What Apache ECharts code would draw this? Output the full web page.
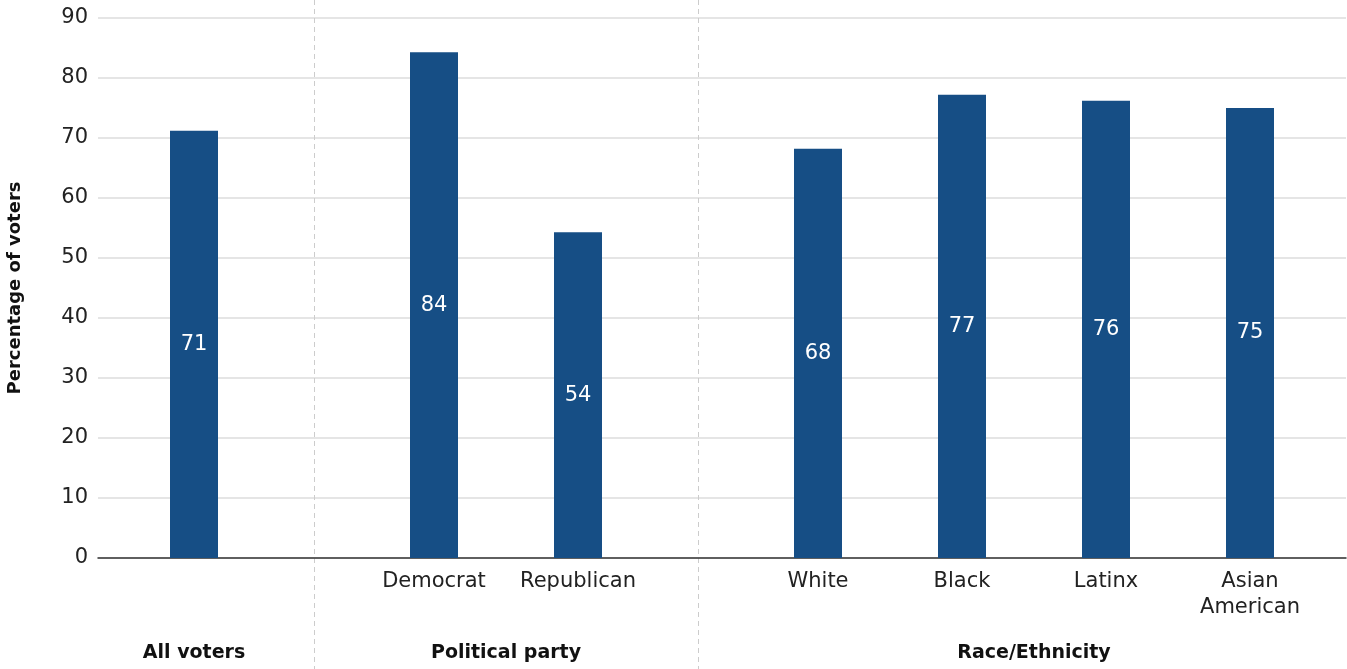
<!DOCTYPE html>
<html>
<head>
<meta charset="utf-8">
<script src="https://cdn.jsdelivr.net/npm/echarts@6/dist/echarts.min.js"></script>
<style>
html,body{margin:0;padding:0;background:#fff;}
#chart{width:1347px;height:669px;}
</style>
</head>
<body>
<div id="chart"></div>
<script>
// ---- data ----
var categories = ['', 'Democrat', 'Republican', 'White', 'Black', 'Latinx', 'Asian\nAmerican'];
var values = [71.2, 84.3, 54.3, 68.2, 77.2, 76.2, 75.0];
var groupNames = ['All voters', 'Political party', 'Race/Ethnicity'];
var groupOf = [0, 1, 1, 2, 2, 2, 2];
var yTicks = [0, 10, 20, 30, 40, 50, 60, 70, 80, 90];

// ---- layout slots (spacing between bars) ----
var LEAD = 2, STEP_IN = 3, STEP_OUT = 5, TAIL = 2;
var slotIdx = [];
var p = LEAD;
for (var i = 0; i < categories.length; i++) {
  if (i > 0) p += (groupOf[i] === groupOf[i - 1]) ? STEP_IN : STEP_OUT;
  slotIdx.push(p);
}
var nSlots = p + TAIL + 1;
var axisCats = [], axisData = [];
for (var s = 0; s < nSlots; s++) { axisCats.push(' ' + s); axisData.push('-'); }
var labelMap = {};
for (var i = 0; i < categories.length; i++) {
  labelMap[slotIdx[i]] = categories[i];
  axisData[slotIdx[i]] = values[i];
}

var FONT = 'DejaVu Sans';
var chart = echarts.init(document.getElementById('chart'));
chart.setOption({
  animation: false,
  grid: { left: 98, right: 1, top: 18, bottom: 111, containLabel: false, outerBoundsMode: 'none' },
  xAxis: {
    type: 'category',
    data: axisCats,
    boundaryGap: false,
    axisLine: { lineStyle: { color: '#333', width: 1.5 } },
    axisTick: { show: false },
    axisLabel: {
      interval: 0,
      margin: 11,
      fontFamily: FONT,
      fontSize: 21,
      lineHeight: 26,
      color: '#222',
      formatter: function (v, idx) { return labelMap[idx] || ''; }
    },
    splitLine: { show: false }
  },
  yAxis: {
    type: 'value',
    min: yTicks[0],
    max: yTicks[yTicks.length - 1],
    interval: yTicks[1] - yTicks[0],
    name: 'Percentage of voters',
    nameLocation: 'middle',
    nameGap: 74,
    nameTextStyle: { fontFamily: FONT, fontSize: 18, fontWeight: 'bold', color: '#111' },
    axisLine: { show: false },
    axisTick: { show: false },
    axisLabel: { margin: 10, fontFamily: FONT, fontSize: 21, color: '#222' },
    splitLine: { lineStyle: { color: '#dcdcdc', width: 1.5 } }
  },
  series: [{
    type: 'bar',
    data: axisData,
    barWidth: 48,
    itemStyle: { color: '#164e85' },
    label: {
      show: true,
      position: 'inside',
      fontFamily: FONT,
      fontSize: 21,
      color: '#fff',
      formatter: function (pr) { return Math.round(pr.value); }
    }
  }]
});

// ---- separators and group labels ----
var graphics = [];
function px(slot) { return chart.convertToPixel({ xAxisIndex: 0 }, axisCats[slot]); }
for (var i = 1; i < categories.length; i++) {
  if (groupOf[i] !== groupOf[i - 1]) {
    var x = Math.round((px(slotIdx[i - 1]) + px(slotIdx[i])) / 2) + 0.5;
    graphics.push({
      type: 'line', silent: true,
      shape: { x1: x, y1: 0, x2: x, y2: 669 },
      style: { stroke: '#cccccc', lineWidth: 1, lineDash: [5, 4] }
    });
  }
}
for (var g = 0; g < groupNames.length; g++) {
  var xs = [];
  for (var i = 0; i < categories.length; i++) if (groupOf[i] === g) xs.push(px(slotIdx[i]));
  var cx = (Math.min.apply(null, xs) + Math.max.apply(null, xs)) / 2;
  graphics.push({
    type: 'text', silent: true,
    x: cx, y: 653,
    style: { text: groupNames[g], fontFamily: FONT, fontSize: 19, fontWeight: 'bold', fill: '#111', align: 'center', verticalAlign: 'middle' }
  });
}
chart.setOption({ graphic: graphics });
</script>
</body>
</html>
